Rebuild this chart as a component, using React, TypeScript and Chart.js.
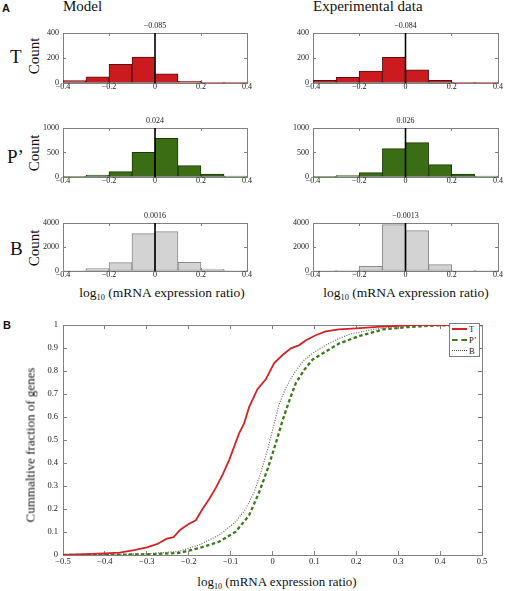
import React, { useEffect, useRef } from "react";
import { Chart, registerables } from "chart.js";

Chart.register(...registerables);

// ---------- data ----------
const binCenters = [-0.35, -0.25, -0.15, -0.05, 0.05, 0.15, 0.25, 0.35];
const modelT = [19, 49, 149, 208, 73, 13, 5, 2];
const expT = [22, 46, 95, 205, 105, 22, 5, 1];
const modelP = [3, 40, 110, 503, 789, 231, 61, 20];
const expP = [5, 27, 88, 578, 700, 252, 61, 20];
const modelB = [28, 194, 694, 3111, 3278, 722, 167, 28];
const expB = [28, 83, 389, 3861, 3361, 528, 56, 10];

const meanModelT = "−0.085";
const meanExpT = "−0.084";
const meanModelP = "0.024";
const meanExpP = "0.026";
const meanModelB = "0.0016";
const meanExpB = "−0.0013";

const cdfT_x = [-0.5, -0.45, -0.4, -0.365, -0.33, -0.3, -0.276, -0.252, -0.236, -0.22, -0.2, -0.183, -0.167, -0.151, -0.135, -0.119, -0.103, -0.08, -0.068, -0.056, -0.036, -0.016, 0.004, 0.024, 0.044, 0.064, 0.08, 0.103, 0.127, 0.159, 0.2, 0.25, 0.3, 0.33, 0.5];
const cdfT_y = [0, 0.004, 0.007, 0.01, 0.021, 0.033, 0.047, 0.071, 0.078, 0.11, 0.135, 0.151, 0.2, 0.244, 0.293, 0.35, 0.415, 0.528, 0.571, 0.642, 0.721, 0.764, 0.835, 0.87, 0.899, 0.913, 0.934, 0.956, 0.973, 0.981, 0.986, 0.992, 0.997, 1, 1];

const cdfP_x = [-0.5, -0.4, -0.3, -0.223, -0.175, -0.127, -0.088, -0.056, -0.032, -0.012, 0.008, 0.024, 0.04, 0.056, 0.076, 0.095, 0.127, 0.159, 0.208, 0.264, 0.32, 0.392, 0.5];
const cdfP_y = [0, 0.001, 0.003, 0.009, 0.03, 0.058, 0.101, 0.172, 0.272, 0.372, 0.486, 0.585, 0.671, 0.749, 0.806, 0.849, 0.885, 0.92, 0.953, 0.981, 0.991, 0.999, 1];

const cdfB_x = [-0.5, -0.4, -0.3, -0.223, -0.175, -0.127, -0.088, -0.064, -0.044, -0.028, -0.012, 0.004, 0.016, 0.032, 0.052, 0.072, 0.095, 0.127, 0.159, 0.184, 0.24, 0.304, 0.36, 0.5];
const cdfB_y = [0, 0.001, 0.005, 0.016, 0.044, 0.087, 0.144, 0.2, 0.272, 0.358, 0.457, 0.571, 0.657, 0.728, 0.792, 0.842, 0.877, 0.913, 0.942, 0.96, 0.981, 0.996, 1, 1];

const seriesNames = ["T", "P’", "B"];

// ---------- style ----------
const SERIF = "'Liberation Serif', 'Times New Roman', Times, serif";
const SANS = "'Liberation Sans', Arial, Helvetica, sans-serif";
const GRAY = "#808080";
const TXT = "#222";
const RED = "#cc1b1f";
const GREEN = "#3b6d14";
const LIGHT = "#d3d3d3";

const fmt = (v: any) => String(Math.round(Number(v) * 1000) / 1000).replace("-", "−");

const meanLabelPlugin = {
  id: "meanLabel",
  afterDraw(chart: any, _args: any, opts: any) {
    const ctx = chart.ctx;
    const x = chart.scales.x.getPixelForValue(0);
    ctx.save();
    ctx.font = `8px ${SERIF}`;
    ctx.fillStyle = TXT;
    ctx.textAlign = "center";
    ctx.textBaseline = "alphabetic";
    ctx.fillText(opts.text, x, chart.chartArea.top - 5);
    ctx.restore();
  },
};

function axisPair(min: number, max: number, step: number, tl: number, pad: number, size: number, horizontal: boolean, fontSize: number) {
  const grid = { drawOnChartArea: false, drawTicks: true, tickLength: tl, color: GRAY, lineWidth: 1, offset: false };
  const border = { display: true, color: GRAY, width: 1 };
  const main: any = {
    type: "linear",
    min,
    max,
    offset: false,
    grid,
    border,
    ticks: {
      stepSize: step,
      font: { family: SERIF, size: fontSize },
      color: TXT,
      padding: pad,
      maxRotation: 0,
      autoSkip: false,
      callback: (v: any) => fmt(v),
    },
    afterFit: (s: any) => {
      if (horizontal) s.height = size;
      else s.width = size;
    },
  };
  const second: any = {
    type: "linear",
    position: horizontal ? "top" : "right",
    min,
    max,
    offset: false,
    grid,
    border,
    ticks: { stepSize: step, display: false },
    afterFit: (s: any) => {
      if (horizontal) s.height = 0;
      else s.width = 0;
    },
  };
  return [main, second];
}

type HistProps = {
  px: number; py: number; pw: number; ph: number;
  values: number[]; fill: string; edge: string;
  yMax: number; yStep: number; mean: string;
};

function Hist(p: HistProps) {
  const ref = useRef<HTMLCanvasElement>(null);
  const AX = 40, TOP = 18, BOT = 14, RIGHT = 12;
  const w = AX + p.pw + RIGHT;
  const h = TOP + p.ph + BOT;
  useEffect(() => {
    const [x, x2] = axisPair(-0.4, 0.4, 0.2, -3, 2, BOT, true, 8);
    const [y, y2] = axisPair(0, p.yMax, p.yStep, -3, 7, AX, false, 8);
    const chart = new Chart(ref.current!, {
      type: "bar",
      data: {
        datasets: [
          {
            type: "line",
            data: [{ x: 0, y: 0 }, { x: 0, y: p.yMax }],
            borderColor: "#000",
            borderWidth: 1.6,
            pointRadius: 0,
            order: 0,
          } as any,
          {
            type: "bar",
            data: binCenters.map((c, i) => ({ x: c, y: p.values[i] })),
            backgroundColor: p.fill,
            borderColor: p.edge,
            borderWidth: 1,
            borderSkipped: false,
            barPercentage: 1,
            categoryPercentage: 1,
            order: 1,
          } as any,
        ],
      },
      options: {
        responsive: false,
        animation: false,
        devicePixelRatio: 1,
        layout: { padding: { left: 0, top: TOP, right: RIGHT, bottom: 0 } },
        plugins: { legend: { display: false }, tooltip: { enabled: false }, meanLabel: { text: p.mean } } as any,
        scales: { x, y, x2, y2 },
      },
      plugins: [meanLabelPlugin as any],
    });
    return () => chart.destroy();
  }, []);
  return (
    <canvas
      ref={ref}
      width={w}
      height={h}
      style={{ position: "absolute", left: p.px - AX, top: p.py - TOP, width: w, height: h }}
    />
  );
}

function Cdf() {
  const ref = useRef<HTMLCanvasElement>(null);
  const px = 63, py = 321, pw = 419, ph = 234;
  const AX = 45, TOP = 10, BOT = 16, RIGHT = 15;
  const w = AX + pw + RIGHT;
  const h = TOP + ph + BOT;
  useEffect(() => {
    const [x, x2] = axisPair(-0.5, 0.5, 0.1, -4, 6, BOT, true, 8.5);
    const [y, y2] = axisPair(0, 1, 0.1, -4, 9, AX, false, 8.5);
    const mk = (xs: number[], ys: number[]) => xs.map((v, i) => ({ x: v, y: ys[i] }));
    const chart = new Chart(ref.current!, {
      type: "line",
      data: {
        datasets: [
          { label: seriesNames[0], data: mk(cdfT_x, cdfT_y), borderColor: "#d42326", borderWidth: 1.8, pointRadius: 0, tension: 0 },
          { label: seriesNames[1], data: mk(cdfP_x, cdfP_y), borderColor: "#3c7a1c", borderWidth: 2.3, borderDash: [3.5, 2.5], pointRadius: 0, tension: 0 },
          { label: seriesNames[2], data: mk(cdfB_x, cdfB_y), borderColor: "#6a6a6a", borderWidth: 1.2, borderDash: [1, 1.5], pointRadius: 0, tension: 0 },
        ],
      },
      options: {
        responsive: false,
        animation: false,
        devicePixelRatio: 1,
        parsing: true,
        layout: { padding: { left: 0, top: TOP, right: RIGHT, bottom: 0 } },
        plugins: { legend: { display: false }, tooltip: { enabled: false } },
        scales: { x, y, x2, y2 },
      },
    });
    return () => chart.destroy();
  }, []);
  return (
    <canvas
      ref={ref}
      width={w}
      height={h}
      style={{ position: "absolute", left: px - AX, top: py - TOP, width: w, height: h }}
    />
  );
}

function T(props: { x: number; y: number; size: number; children: any; bold?: boolean; sans?: boolean }) {
  return (
    <div
      style={{
        position: "absolute",
        left: props.x,
        top: props.y,
        fontSize: props.size,
        lineHeight: 1,
        fontFamily: props.sans ? SANS : SERIF,
        fontWeight: props.bold ? "bold" : "normal",
        color: "#111",
        whiteSpace: "nowrap",
      }}
    >
      {props.children}
    </div>
  );
}

function Rot(props: { cx: number; cy: number; size: number; children: any }) {
  return (
    <div
      style={{
        position: "absolute",
        left: props.cx,
        top: props.cy,
        transform: "translate(-50%, -50%) rotate(-90deg)",
        fontSize: props.size,
        lineHeight: 1,
        fontFamily: SERIF,
        color: "#111",
        whiteSpace: "nowrap",
      }}
    >
      {props.children}
    </div>
  );
}

function XLabel(props: { cx: number; y: number; size: number }) {
  return (
    <div
      style={{
        position: "absolute",
        left: props.cx - 150,
        width: 300,
        top: props.y,
        textAlign: "center",
        fontSize: props.size,
        lineHeight: 1,
        fontFamily: SERIF,
        color: "#111",
        whiteSpace: "nowrap",
      }}
    >
      log
      <span style={{ fontSize: props.size * 0.62, verticalAlign: "-0.35em", lineHeight: 0 }}>10</span>
      {" (mRNA expression ratio)"}
    </div>
  );
}

function Legend() {
  const left = 449, top = 323;
  const rows = [
    { name: seriesNames[0], style: { borderTop: "2px solid #d42326" } },
    { name: seriesNames[1], style: { borderTop: "2px dashed #3c7a1c" } },
    { name: seriesNames[2], style: { borderTop: "1px dotted #555" } },
  ];
  return (
    <div
      style={{
        position: "absolute",
        left,
        top,
        width: 31,
        height: 34,
        border: "1px solid #808080",
        background: "#fff",
        boxSizing: "border-box",
      }}
    >
      {rows.map((r, i) => (
        <React.Fragment key={i}>
          <div style={{ position: "absolute", left: 2, top: 4 + i * 11, width: 15, height: 0, ...r.style }} />
          <div
            style={{
              position: "absolute",
              left: 19,
              top: i * 11,
              fontSize: 8.5,
              lineHeight: "10px",
              fontFamily: SERIF,
              color: "#222",
            }}
          >
            {r.name}
          </div>
        </React.Fragment>
      ))}
    </div>
  );
}

export default function App() {
  return (
    <div style={{ position: "absolute", left: 0, top: 0, width: 505, height: 591, background: "#fff", overflow: "hidden" }}>
      <T x={2} y={2.7} size={11} bold sans>A</T>
      <T x={63} y={-1} size={15}>Model</T>
      <T x={313} y={-1} size={15}>Experimental data</T>

      <T x={10} y={47.4} size={19}>T</T>
      <T x={7} y={147.4} size={19}>P’</T>
      <T x={10} y={239} size={19}>B</T>

      <Rot cx={33.5} cy={56} size={15}>Count</Rot>
      <Rot cx={33.5} cy={153} size={15}>Count</Rot>
      <Rot cx={33.5} cy={248} size={15}>Count</Rot>

      <Hist px={63} py={33} pw={184} ph={50} values={modelT} fill={RED} edge="#5a1010" yMax={400} yStep={200} mean={meanModelT} />
      <Hist px={313} py={33} pw={185} ph={50} values={expT} fill={RED} edge="#5a1010" yMax={400} yStep={200} mean={meanExpT} />
      <Hist px={63} py={128} pw={184} ph={49} values={modelP} fill={GREEN} edge="#1e3a08" yMax={1000} yStep={500} mean={meanModelP} />
      <Hist px={313} py={128} pw={185} ph={49} values={expP} fill={GREEN} edge="#1e3a08" yMax={1000} yStep={500} mean={meanExpP} />
      <Hist px={63} py={223} pw={184} ph={48} values={modelB} fill={LIGHT} edge="#8a8a8a" yMax={4000} yStep={2000} mean={meanModelB} />
      <Hist px={313} py={223} pw={185} ph={48} values={expB} fill={LIGHT} edge="#8a8a8a" yMax={4000} yStep={2000} mean={meanExpB} />

      <XLabel cx={162} y={285.7} size={13.5} />
      <XLabel cx={406} y={285.7} size={13.5} />

      <T x={3} y={319.7} size={11} bold sans>B</T>
      <Cdf />
      <Legend />
      <Rot cx={30} cy={445} size={13}>Cummaltive fraction of genes</Rot>
      <XLabel cx={277} y={575} size={13} />
    </div>
  );
}
